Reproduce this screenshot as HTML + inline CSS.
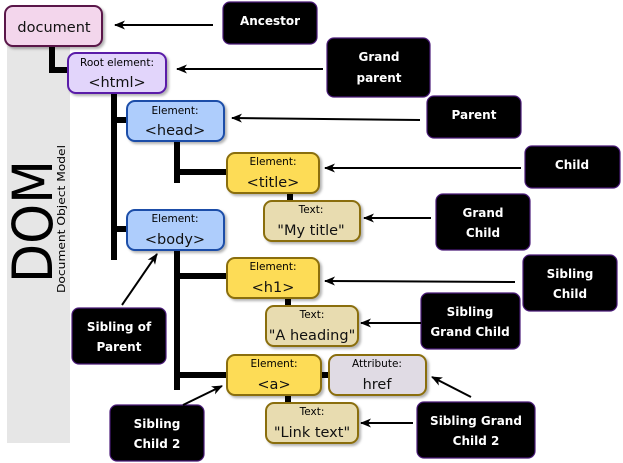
<!DOCTYPE html>
<html><head><meta charset="utf-8"><style>
html,body{margin:0;padding:0;background:#fff;}
svg{display:block;}
text{font-family:"DejaVu Sans","Liberation Sans",sans-serif;}
.s{font-size:10.5px;fill:#000;text-anchor:middle;}
.b{font-size:14.5px;fill:#111;text-anchor:middle;}
.w{font-size:12px;font-weight:bold;fill:#fff;text-anchor:middle;}
</style></head><body>
<svg width="623" height="463" viewBox="0 0 623 463" xmlns="http://www.w3.org/2000/svg">
<defs>
<marker id="ah" markerWidth="12" markerHeight="9" refX="10" refY="4.5" orient="auto" markerUnits="userSpaceOnUse">
<path d="M0,0 L11,4.5 L0,9 L3,4.5 Z" fill="#000"/></marker>
<filter id="sh" x="-10%" y="-10%" width="130%" height="140%"><feDropShadow dx="2" dy="2" stdDeviation="1.2" flood-color="#000" flood-opacity="0.3"/></filter>
</defs>
<rect x="7" y="46" width="63" height="397" fill="#e6e6e6"/>
<text transform="translate(52,283) rotate(-90)" font-size="55" textLength="123" lengthAdjust="spacingAndGlyphs" fill="#000">DOM</text>
<text transform="translate(65,293) rotate(-90)" font-size="11" textLength="148" lengthAdjust="spacingAndGlyphs" fill="#000">Document Object Model</text>

<g stroke="#000" stroke-width="6" fill="none">
<path d="M52,46 V70 H70"/>
<path d="M114,93 V260"/>
<path d="M114,120 H128"/>
<path d="M114,229 H128"/>
<path d="M177,141 V183"/>
<path d="M177,172 H228"/>
<path d="M177,250 V390"/>
<path d="M177,276 H228"/>
<path d="M177,375 H228"/>
<path d="M290,193 V201"/>
<path d="M288,298 V307"/>
<path d="M288,395 V404"/>
<path d="M321,375 H330"/>
</g>

<g filter="url(#sh)" stroke-width="2">
<rect x="5" y="6" width="97" height="40" rx="8" fill="#f3d6ec" stroke="#5a1848"/>
<rect x="68" y="53" width="98" height="40" rx="8" fill="#e2d5fb" stroke="#5a1ea8"/>
<rect x="127" y="101" width="97" height="40" rx="8" fill="#aecdfc" stroke="#1a4ea8"/>
<rect x="227" y="153" width="92" height="40" rx="8" fill="#fddc56" stroke="#8a6e10"/>
<rect x="264" y="201" width="96" height="40" rx="8" fill="#e8dcb0" stroke="#8a6e10"/>
<rect x="127" y="210" width="97" height="40" rx="8" fill="#aecdfc" stroke="#1a4ea8"/>
<rect x="227" y="258" width="92" height="40" rx="8" fill="#fddc56" stroke="#8a6e10"/>
<rect x="266" y="306" width="92" height="40" rx="8" fill="#e8dcb0" stroke="#8a6e10"/>
<rect x="227" y="355" width="94" height="40" rx="8" fill="#fddc56" stroke="#8a6e10"/>
<rect x="329" y="355" width="97" height="40" rx="8" fill="#e0dbe4" stroke="#8a6e10"/>
<rect x="266" y="403" width="92" height="40" rx="8" fill="#e8dcb0" stroke="#8a6e10"/>
</g>
<text class="b" x="54" y="32">document</text>
<text class="s" x="117" y="66">Root element:</text><text class="b" x="117" y="87">&lt;html&gt;</text>
<text class="s" x="175" y="114">Element:</text><text class="b" x="175" y="135">&lt;head&gt;</text>
<text class="s" x="273" y="165">Element:</text><text class="b" x="273" y="187">&lt;title&gt;</text>
<text class="s" x="311" y="213">Text:</text><text class="b" x="311" y="235">"My title"</text>
<text class="s" x="175" y="222">Element:</text><text class="b" x="175" y="244">&lt;body&gt;</text>
<text class="s" x="273" y="270">Element:</text><text class="b" x="273" y="292">&lt;h1&gt;</text>
<text class="s" x="312" y="318">Text:</text><text class="b" x="312" y="340">"A heading"</text>
<text class="s" x="274" y="367">Element:</text><text class="b" x="274" y="389">&lt;a&gt;</text>
<text class="s" x="377" y="367">Attribute:</text><text class="b" x="377" y="389">href</text>
<text class="s" x="312" y="415">Text:</text><text class="b" x="312" y="437">"Link text"</text>

<g fill="#000" stroke="#4a1a78" stroke-width="1.2">
<rect x="223" y="2" width="94" height="42" rx="7"/>
<rect x="327" y="38" width="103" height="59" rx="7"/>
<rect x="427" y="96" width="94" height="42" rx="7"/>
<rect x="525" y="146" width="95" height="42" rx="7"/>
<rect x="436" y="194" width="94" height="56" rx="7"/>
<rect x="523" y="255" width="94" height="56" rx="7"/>
<rect x="421" y="293" width="99" height="56" rx="7"/>
<rect x="417" y="402" width="118" height="56" rx="7"/>
<rect x="72" y="308" width="94" height="56" rx="7"/>
<rect x="110" y="405" width="94" height="56" rx="7"/>
</g>
<text class="w" x="270" y="25">Ancestor</text>
<text class="w" x="379" y="61">Grand</text><text class="w" x="379" y="82">parent</text>
<text class="w" x="474" y="119">Parent</text>
<text class="w" x="572" y="169">Child</text>
<text class="w" x="483" y="217">Grand</text><text class="w" x="483" y="237">Child</text>
<text class="w" x="570" y="278">Sibling</text><text class="w" x="570" y="298">Child</text>
<text class="w" x="470" y="316">Sibling</text><text class="w" x="470" y="336">Grand Child</text>
<text class="w" x="476" y="425">Sibling Grand</text><text class="w" x="476" y="445">Child 2</text>
<text class="w" x="119" y="331">Sibling of</text><text class="w" x="119" y="351">Parent</text>
<text class="w" x="157" y="428">Sibling</text><text class="w" x="157" y="448">Child 2</text>

<g stroke="#000" stroke-width="2" marker-end="url(#ah)">
<path d="M213,25 L115,25"/>
<path d="M323,69 L177,69"/>
<path d="M420,120 L232,118"/>
<path d="M521,168 L325,168"/>
<path d="M431,218 L364,218"/>
<path d="M515,282 L325,281"/>
<path d="M421,323 L361,323"/>
<path d="M471,397 L432,377"/>
<path d="M413,423 L361,423"/>
<path d="M122,305 L157,254"/>
<path d="M183,405 L222,386"/>
</g>
</svg>
</body></html>
